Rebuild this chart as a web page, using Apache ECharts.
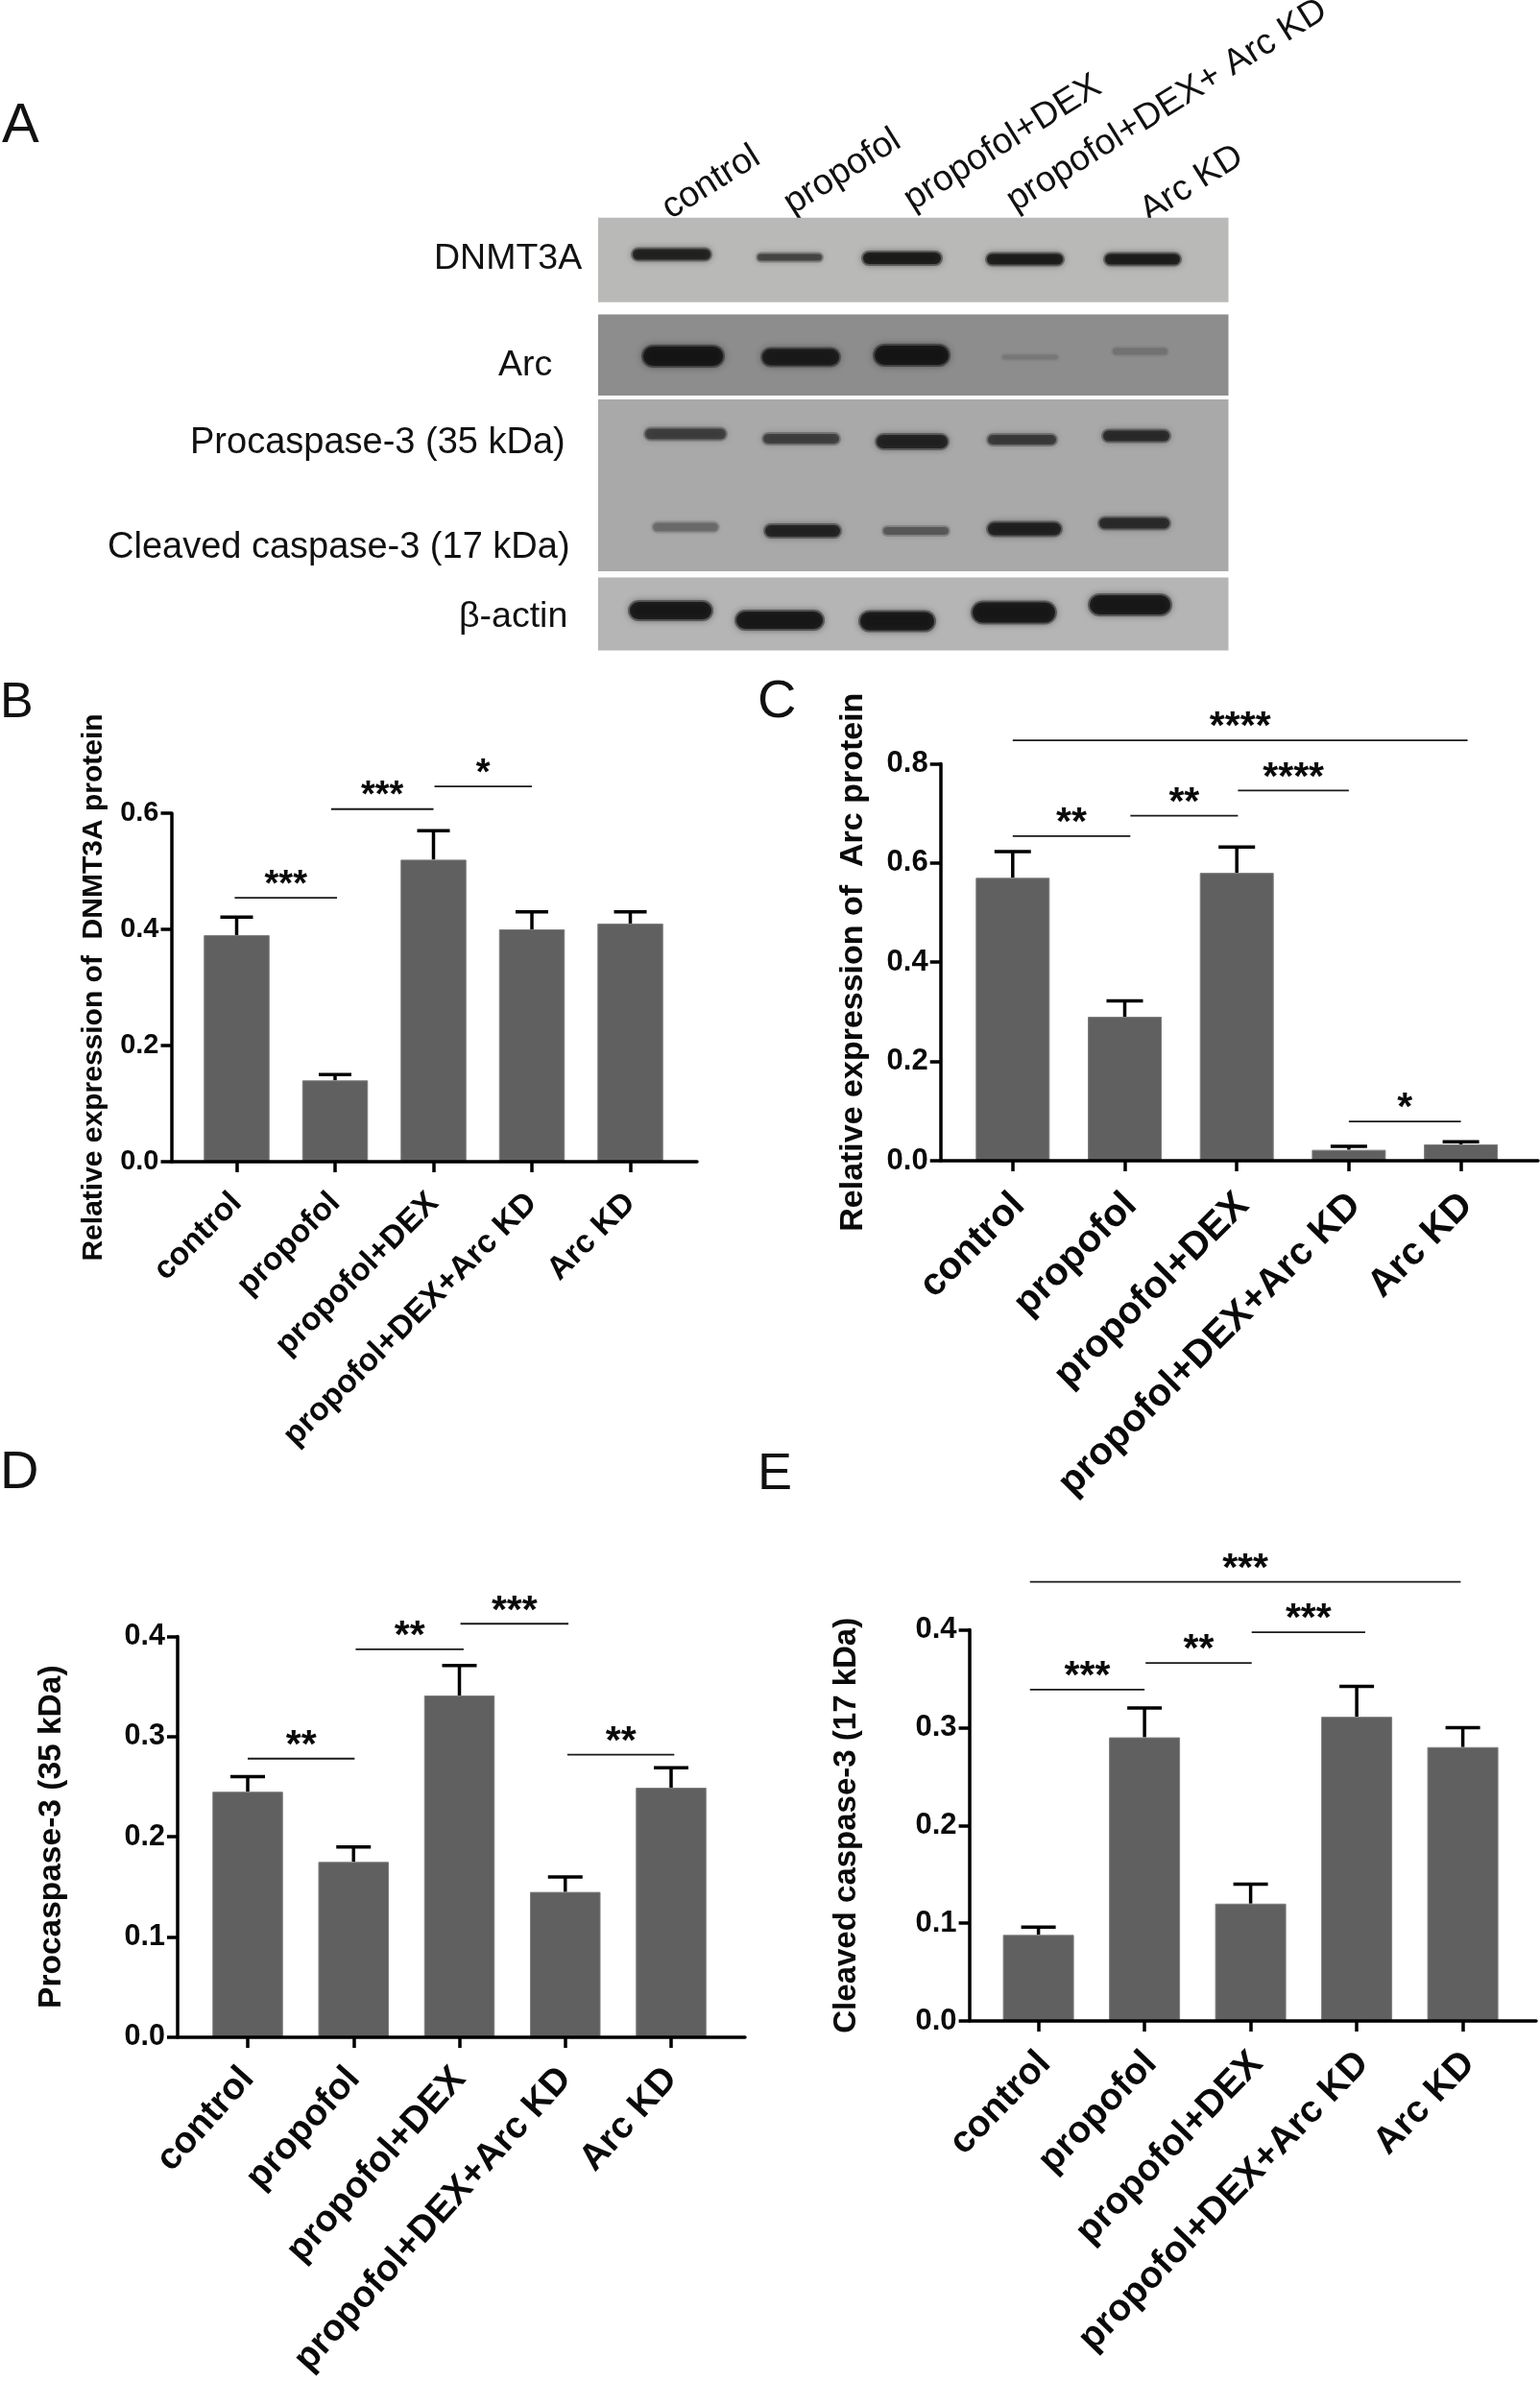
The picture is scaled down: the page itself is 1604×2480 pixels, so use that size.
<!DOCTYPE html>
<html>
<head>
<meta charset="utf-8">
<style>html,body{margin:0;padding:0;background:#fff}#c{width:1604px;height:2480px}</style>
<script src="https://cdn.jsdelivr.net/npm/echarts@6/dist/echarts.min.js"></script>
</head>
<body>
<div id="c"></div>
<script>
// ---------- data ----------
const categories = ['control', 'propofol', 'propofol+DEX', 'propofol+DEX+Arc KD', 'Arc KD'];
const blotLanes = ['control', 'propofol', 'propofol+DEX', 'propofol+DEX+ Arc KD', 'Arc KD'];
const blotRowNames = ['DNMT3A', 'Arc', 'Procaspase-3 (35 kDa)', 'Cleaved caspase-3 (17 kDa)', 'β-actin'];

const dnmt3aValues = [0.39, 0.14, 0.52, 0.40, 0.41];
const dnmt3aErrTop = [0.421, 0.15, 0.57, 0.43, 0.43];
const dnmt3aTicks = [0, 0.2, 0.4, 0.6];
const dnmt3aSig = [[-0.02, 1.02, 0.4545, '***'], [0.96, 2.0, 0.607, '***'], [2.01, 3.0, 0.646, '*']];

const arcValues = [0.57, 0.29, 0.58, 0.022, 0.033];
const arcErrTop = [0.623, 0.322, 0.632, 0.029, 0.038];
const arcTicks = [0, 0.2, 0.4, 0.6, 0.8];
const arcSig = [[0.0, 4.06, 0.847, '****'], [0.0, 1.05, 0.654, '**'], [1.05, 2.01, 0.695, '**'], [2.01, 3.0, 0.746, '****'], [3.0, 4.0, 0.079, '*']];

const procaspValues = [0.245, 0.175, 0.341, 0.145, 0.249];
const procaspErrTop = [0.26, 0.19, 0.371, 0.16, 0.269];
const procaspTicks = [0, 0.1, 0.2, 0.3, 0.4];
const procaspSig = [[0.0, 1.01, 0.278, '**'], [1.02, 2.04, 0.387, '**'], [2.01, 3.03, 0.4126, '***'], [3.02, 4.03, 0.282, '**']];

const cleavedValues = [0.088, 0.29, 0.12, 0.311, 0.28];
const cleavedErrTop = [0.096, 0.32, 0.14, 0.342, 0.30];
const cleavedTicks = [0, 0.1, 0.2, 0.3, 0.4];
const cleavedSig = [[-0.08, 3.98, 0.449, '***'], [-0.08, 1.0, 0.3387, '***'], [1.01, 2.01, 0.366, '**'], [2.01, 3.08, 0.3975, '***']];

// band strength per lane, one list per blot row
const dnmt3aBands = [0.88, 0.62, 0.95, 0.93, 0.93];
const arcBands = [0.97, 0.9, 0.97, 0.14, 0.18];
const procaspBands = [0.62, 0.62, 0.85, 0.66, 0.78];
const cleavedBands = [0.34, 0.85, 0.45, 0.88, 0.78];
const actinBands = [0.98, 0.98, 0.98, 0.98, 0.98];

// ---------- layout ----------
const FONT = '"Liberation Sans", Arial, sans-serif';
const panels = [
  {name:'Relative expression of  DNMT3A protein', values:dnmt3aValues, err:dnmt3aErrTop, ticks:dnmt3aTicks, sig:dnmt3aSig, max:0.6, step:0.2,
   axisX:178.5, axisEnd:726, tick0:246.5, band:102.5, y0:1210, yTop:847, barW:68.5, capW:34, catFont:33.5, rot:45, valFont:29, nameFont:30, nameGap:66, starFont:38, catMargin:38, catVA:'middle', catLH:undefined},
  {name:'Relative expression of  Arc protein', values:arcValues, err:arcErrTop, ticks:arcTicks, sig:arcSig, max:0.8, step:0.2,
   axisX:979.7, axisEnd:1602, tick0:1054.8, band:116.7, y0:1209, yTop:795.4, barW:77, capW:38, catFont:40, rot:45, valFont:31, nameFont:34, nameGap:74, starFont:41, catMargin:34, catVA:'top', catLH:18},
  {name:'Procaspase-3 (35 kDa)', values:procaspValues, err:procaspErrTop, ticks:procaspTicks, sig:procaspSig, max:0.4, step:0.1,
   axisX:185, axisEnd:776, tick0:258, band:110.25, y0:2122, yTop:1704.4, barW:73.5, capW:36, catFont:38.5, rot:48, valFont:30.5, nameFont:33.5, nameGap:114, starFont:41, catMargin:37, catVA:'middle', catLH:undefined},
  {name:'Cleaved caspase-3 (17 kDa)', values:cleavedValues, err:cleavedErrTop, ticks:cleavedTicks, sig:cleavedSig, max:0.4, step:0.1,
   axisX:1009.6, axisEnd:1600, tick0:1081.6, band:110.5, y0:2105, yTop:1697.5, barW:74, capW:36, catFont:39, rot:46, valFont:31, nameFont:33, nameGap:111, starFont:41, catMargin:32, catVA:'top', catLH:18}
];

const blotBox = {left:623, top:226, width:657, height:453};
const blotRects = [[0,0.7,656.5,88,'#b9b9b7'],[0,101.5,656.5,84.5,'#8d8d8d'],[0,190,656.5,179,'#a9a9a9'],[0,375.5,656.5,76,'#b5b5b5']];
const bandGeom = [
  // [x1, x2, y-centre, height] per lane, relative to blotBox
  [[37,116,39,9],[167,232,42,5],[277,356,43,10],[406,483,44,9],[529,605,44,9]],
  [[48,129,145,18],[172,250,146,15],[289,364,144,18],[422,478,146,3],[537,592,140,5]],
  [[50,132,226,9],[173,250,231,8],[291,363,234,12],[407,476,232,8],[527,594,228,9]],
  [[58,124,323,7],[175,251,327,10],[298,364,327,6],[407,481,325,11],[523,594,319,9]],
  [[34,117,410,16],[145,233,420,16],[274,349,421,17],[391,475,412,19],[513,595,404,18]]
];
const blotRowsData = [dnmt3aBands, arcBands, procaspBands, cleavedBands, actinBands];
const blotText = [
  [0,37.5,452,270],[1,37.5,519,381],[2,38,198,462],
  [3,38,112,571],[4,37.5,478,643]
];
const laneText = [[0,703,236],[1,830,231],[2,955,227],[3,1062,228],[4,1201,239]];
const letters = [['A',2,132,58],['B',0,733,52],['C',789,732,56],['D',0,1535,56],['E',789,1536,54]];

// ---------- option ----------
const grid = [], xAxis = [], yAxis = [], series = [], graphic = [];
panels.forEach((p, k) => {
  const left = p.tick0 - p.band / 2;
  const g0 = grid.length;
  grid.push({left, top:p.yTop, width:p.band * 5, height:p.y0 - p.yTop, containLabel:false});
  grid.push({left:p.axisX, top:p.yTop, width:p.axisEnd - p.axisX, height:p.y0 - p.yTop});
  const ax = xAxis.length;
  xAxis.push({type:'category', gridIndex:g0, data:categories,
    axisLine:{show:false}, axisTick:{show:true, alignWithLabel:true, length:11, lineStyle:{color:'#000', width:3.5}},
    splitLine:{show:false},
    axisLabel:{interval:0, rotate:p.rot, margin:p.catMargin, verticalAlign:p.catVA, lineHeight:p.catLH, color:'#0a0a0a', fontFamily:FONT, fontWeight:'bold', fontSize:p.catFont}, z:5});
  xAxis.push({type:'value', gridIndex:g0 + 1, min:0, max:1, axisLine:{show:true, onZero:false, lineStyle:{color:'#000', width:3.5}},
    axisTick:{show:false}, axisLabel:{show:false}, splitLine:{show:false}, z:5});
  yAxis.push({type:'value', gridIndex:g0, min:0, max:p.max, interval:p.step, offset:left - p.axisX,
    name:p.name, nameLocation:'middle', nameGap:p.nameGap, nameRotate:90,
    nameTextStyle:{color:'#0a0a0a', fontFamily:FONT, fontWeight:'bold', fontSize:p.nameFont},
    axisLine:{show:true, onZero:false, lineStyle:{color:'#000', width:3.5}},
    axisTick:{show:true, length:11, lineStyle:{color:'#000', width:3.5}},
    splitLine:{show:false},
    axisLabel:{margin:13, color:'#0a0a0a', fontFamily:FONT, fontWeight:'bold', fontSize:p.valFont, formatter:v => v.toFixed(1)}, z:5});
  yAxis.push({type:'value', gridIndex:g0 + 1, show:false, min:0, max:1});

  series.push({type:'bar', xAxisIndex:ax, yAxisIndex:ax, data:p.values, barWidth:p.barW, silent:true, z:2,
    itemStyle:{color:'#606060', borderColor:'#7c7c7c', borderWidth:1}, animation:false});

  series.push({type:'custom', xAxisIndex:ax, yAxisIndex:ax, silent:true, z:1, animation:false,
    data:p.err.map((e, i) => [i, p.values[i], e]), encode:{x:0, y:2},
    renderItem(params, api) {
      const i = api.value(0), base = api.coord([i, api.value(1)]), top = api.coord([i, api.value(2)]);
      const ls = {stroke:'#000', lineWidth:3.5};
      return {type:'group', children:[
        {type:'line', shape:{x1:base[0], y1:base[1], x2:top[0], y2:top[1]}, style:ls},
        {type:'line', shape:{x1:top[0] - p.capW / 2, y1:top[1], x2:top[0] + p.capW / 2, y2:top[1]}, style:ls}
      ]};
    }});

  series.push({type:'custom', xAxisIndex:ax, yAxisIndex:ax, silent:true, z:3, animation:false, clip:false,
    data:p.sig.map((s, i) => [i, s[2]]), encode:{x:0, y:1},
    renderItem(params, api) {
      const s = p.sig[params.dataIndex];
      const o = api.coord([0, s[2]]), w = api.size([1, 0])[0];
      const x1 = o[0] + s[0] * w, x2 = o[0] + s[1] * w, y = o[1];
      return {type:'group', children:[
        {type:'line', shape:{x1, y1:y, x2, y2:y}, style:{stroke:'#1a1a1a', lineWidth:1.8}},
        {type:'text', x:(x1 + x2) / 2, y:y - 13, style:{text:s[3], fill:'#0a0a0a', font:'bold ' + p.starFont + 'px ' + FONT, textAlign:'center', textVerticalAlign:'middle'}}
      ]};
    }});
});

// western blot panel (image-like), hidden pixel axes
const gBlot = grid.length, aBlot = xAxis.length;
grid.push({left:blotBox.left, top:blotBox.top, width:blotBox.width, height:blotBox.height});
xAxis.push({type:'value', gridIndex:gBlot, show:false, min:0, max:blotBox.width});
yAxis.push({type:'value', gridIndex:gBlot, show:false, min:0, max:blotBox.height, inverse:true});
series.push({type:'custom', xAxisIndex:aBlot, yAxisIndex:aBlot, silent:true, animation:false, z:1,
  data:blotRects.map((r, i) => [i, r[1]]), encode:{x:0, y:1},
  renderItem(params, api) {
    const r = blotRects[params.dataIndex];
    const a = api.coord([r[0], r[1]]), b = api.coord([r[0] + r[2], r[1] + r[3]]);
    return {type:'rect', shape:{x:a[0], y:a[1], width:b[0] - a[0], height:b[1] - a[1]}, style:{fill:r[4]}};
  }});
const bandItems = [];
blotRowsData.forEach((row, r) => row.forEach((s, l) => bandItems.push([r, l, s])));
series.push({type:'custom', xAxisIndex:aBlot, yAxisIndex:aBlot, silent:true, animation:false, z:2,
  data:bandItems.map((b, i) => [i, b[2]]), encode:{x:0, y:1},
  renderItem(params, api) {
    const b = bandItems[params.dataIndex], g = bandGeom[b[0]][b[1]];
    const a = api.coord([g[0], g[2] - g[3] / 2]), c = api.coord([g[1], g[2] + g[3] / 2]);
    const w = c[0] - a[0], h = c[1] - a[1];
    const rectOf = (pad, alpha, blur) => {
      const col = 'rgba(12,12,12,' + alpha + ')';
      return {type:'rect', shape:{x:a[0] - pad, y:a[1] - pad, width:w + 2 * pad, height:h + 2 * pad, r:(h + 2 * pad) / 2},
        style:{fill:col, shadowColor:col, shadowBlur:blur}};
    };
    return {type:'group', children:[rectOf(3, b[2] * 0.4, 9), rectOf(1, b[2] * 0.75, 6)]};
  }});

blotText.forEach(t => graphic.push({type:'text', x:t[2], y:t[3], silent:true,
  style:{text:blotRowNames[t[0]], fill:'#111', font:t[1] + 'px ' + FONT, textAlign:'left', textVerticalAlign:'middle'}}));
laneText.forEach(t => graphic.push({type:'text', x:t[1], y:t[2], rotation:32 * Math.PI / 180, silent:true,
  style:{text:blotLanes[t[0]], fill:'#111', font:'37.5px ' + FONT, textAlign:'left', textVerticalAlign:'bottom'}}));
letters.forEach(t => graphic.push({type:'text', x:t[1], y:t[2], silent:true,
  style:{text:t[0], fill:'#111', font:t[3] + 'px ' + FONT, textAlign:'left', textVerticalAlign:'middle'}}));

const chart = echarts.init(document.getElementById('c'), null, {renderer:'canvas', width:1604, height:2480});
chart.setOption({backgroundColor:'#fff', animation:false, grid, xAxis, yAxis, series, graphic:{elements:graphic}});
</script>
</body>
</html>
